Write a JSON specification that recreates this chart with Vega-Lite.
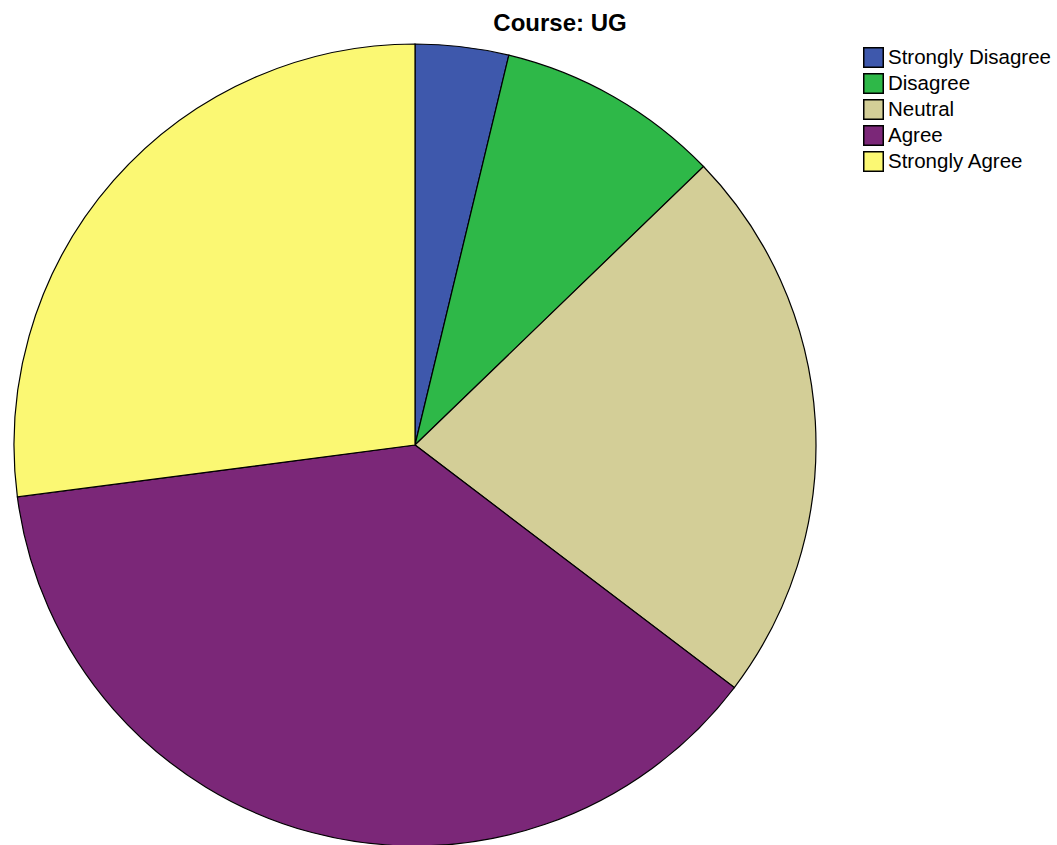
{
  "$schema": "https://vega.github.io/schema/vega-lite/v6.json",
  "autosize": {"type": "none"},
  "padding": {"left": 14, "top": 44, "right": 241, "bottom": 0},
  "width": 802,
  "height": 802,
  "background": "white",
  "title": {
    "text": "Course: UG",
    "font": "Liberation Sans",
    "fontSize": 24,
    "fontWeight": "bold",
    "color": "black",
    "anchor": "middle",
    "dx": 145,
    "offset": 6
  },
  "data": {
    "values": [
      {"response": "Strongly Disagree", "count": 5, "order": 1},
      {"response": "Disagree", "count": 12, "order": 2},
      {"response": "Neutral", "count": 30, "order": 3},
      {"response": "Agree", "count": 50, "order": 4},
      {"response": "Strongly Agree", "count": 36, "order": 5}
    ]
  },
  "mark": {"type": "arc", "stroke": "black", "strokeWidth": 1.2},
  "encoding": {
    "theta": {"field": "count", "type": "quantitative", "stack": true},
    "order": {"field": "order", "type": "quantitative"},
    "color": {
      "field": "response",
      "type": "nominal",
      "scale": {
        "domain": ["Strongly Disagree", "Disagree", "Neutral", "Agree", "Strongly Agree"],
        "range": ["#3E58AC", "#2EB848", "#D3CE97", "#7B2778", "#FBF873"]
      },
      "legend": {
        "title": null,
        "orient": "none",
        "legendX": 849,
        "legendY": 3,
        "symbolType": "square",
        "symbolSize": 380,
        "symbolStrokeColor": "black",
        "symbolStrokeWidth": 1.5,
        "symbolOpacity": 1,
        "labelFont": "Liberation Sans",
        "labelFontSize": 20.5,
        "labelLimit": 400,
        "labelColor": "black",
        "labelOffset": 4,
        "rowPadding": -1
      }
    }
  },
  "config": {"view": {"stroke": null}}
}
